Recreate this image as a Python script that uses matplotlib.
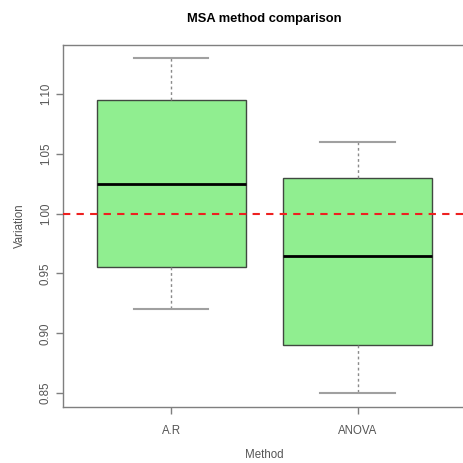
import matplotlib
matplotlib.use("Agg")
import matplotlib.pyplot as plt

plt.rcParams['font.family'] = ['Liberation Sans', 'DejaVu Sans']

# five-number summaries
methods = ["A.R", "ANOVA"]
whislo = [0.92, 0.85]
q1 = [0.955, 0.89]
med = [1.025, 0.965]
q3 = [1.095, 1.03]
whishi = [1.13, 1.06]
ref_line = 1.00
yticks = [0.85, 0.90, 0.95, 1.00, 1.05, 1.10]

stats = []
for i, m in enumerate(methods):
    stats.append(dict(label=m, whislo=whislo[i], q1=q1[i], med=med[i],
                      q3=q3[i], whishi=whishi[i], fliers=[]))

fig = plt.figure(figsize=(4.63, 4.63), dpi=100)
ax = fig.add_axes([0.136, 0.122, 0.870, 0.7815])

axis_col = '#7f7f7f'
ax.bxp(stats, positions=[1, 2], widths=0.8, patch_artist=True,
       boxprops=dict(facecolor='#90ee90', edgecolor='#404840', linewidth=1.0),
       medianprops=dict(color='black', linewidth=2.0),
       whiskerprops=dict(color='#8a8a8a', linestyle=(0, (2, 2)), linewidth=1.0),
       capprops=dict(color='#a0a0a0', linewidth=1.5),
       capwidths=0.4)

ax.axhline(ref_line, color='#ee2020', linestyle=(0, (3.5, 3)), linewidth=1.5, zorder=5)

ax.set_xlim(0.42, 2.58)
ax.set_ylim(0.8388, 1.1412)
ax.set_yticks(yticks)
ax.set_yticklabels(["%.2f" % v for v in yticks], rotation=90, va='center')
ax.set_xticks([1, 2])
ax.set_xticklabels(methods)

for s in ax.spines.values():
    s.set_color(axis_col)
    s.set_linewidth(1.0)
ax.tick_params(colors=axis_col, labelcolor='#555555', labelsize=8.3, length=5, width=1.0)
ax.tick_params(axis='x', pad=8.5)
ax.tick_params(axis='y', pad=3)

ax.set_title("MSA method comparison", fontsize=9.3, fontweight='bold', pad=16.5)
ax.set_xlabel("Method", fontsize=8.3, color='#555555', labelpad=8.5)
ax.set_ylabel("Variation", fontsize=8.3, color='#555555', labelpad=10)

fig.savefig("out.png", dpi=100)
